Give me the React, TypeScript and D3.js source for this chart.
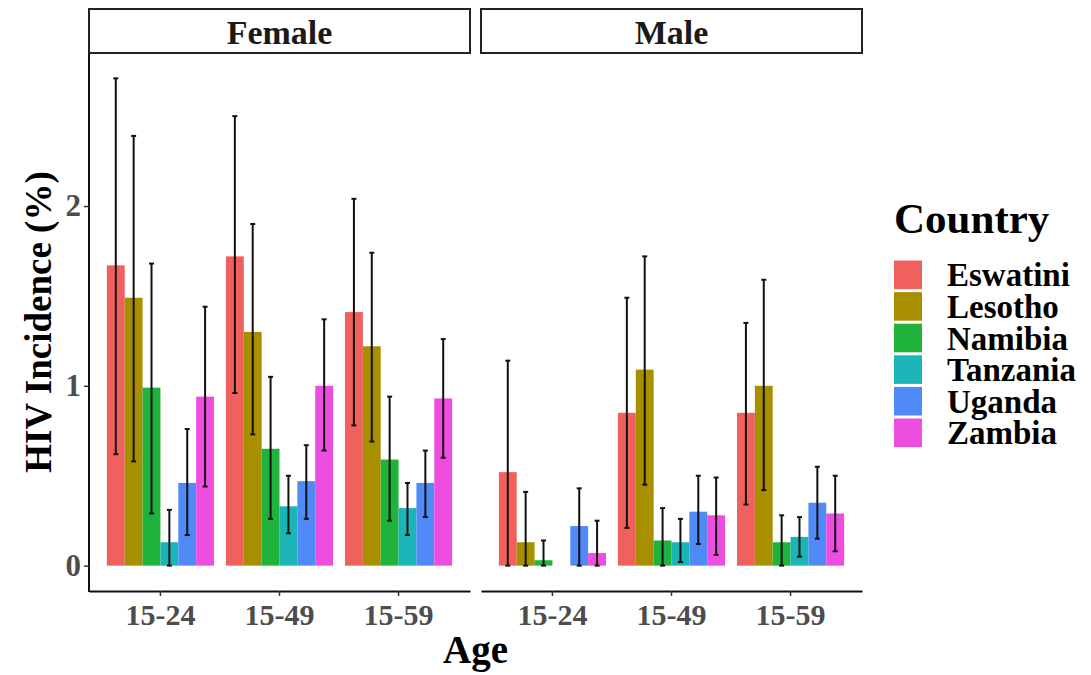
import React, { useEffect, useRef } from "react";
import * as d3 from "d3";

const countries = ["Eswatini", "Lesotho", "Namibia", "Tanzania", "Uganda", "Zambia"];
const sexes = ["Female", "Male"];
const ageGroups = ["15-24", "15-49", "15-59"];
const yTicks = [0, 1, 2];

// rows = age group, columns = country
const femaleIncidence = [
  [1.67, 1.49, 0.99, 0.13, 0.46, 0.94],
  [1.72, 1.3, 0.65, 0.33, 0.47, 1.0],
  [1.41, 1.22, 0.59, 0.32, 0.46, 0.93],
];
const femaleLower = [
  [0.62, 0.58, 0.29, 0.0, 0.17, 0.44],
  [0.96, 0.73, 0.26, 0.18, 0.26, 0.64],
  [0.78, 0.69, 0.25, 0.17, 0.27, 0.6],
];
const femaleUpper = [
  [2.71, 2.39, 1.68, 0.31, 0.76, 1.44],
  [2.5, 1.9, 1.05, 0.5, 0.67, 1.37],
  [2.04, 1.74, 0.94, 0.46, 0.64, 1.26],
];
const maleIncidence = [
  [0.52, 0.13, 0.03, null, 0.22, 0.07],
  [0.85, 1.09, 0.14, 0.13, 0.3, 0.28],
  [0.85, 1.0, 0.13, 0.16, 0.35, 0.29],
];
const maleLower = [
  [0, 0, 0, null, 0, 0],
  [0.21, 0.45, 0, 0.02, 0.12, 0.06],
  [0.34, 0.42, 0, 0.05, 0.15, 0.08],
];
const maleUpper = [
  [1.14, 0.41, 0.14, null, 0.43, 0.25],
  [1.49, 1.72, 0.32, 0.26, 0.5, 0.49],
  [1.35, 1.59, 0.28, 0.27, 0.55, 0.5],
];

const palette = ["#F0605D", "#A88F00", "#1FB33B", "#1BB5B8", "#4F8AF7", "#EE4EE0"];

const FONT = "'Liberation Serif', 'Times New Roman', serif";

const App = () => {
  const svgRef = useRef(null);

  useEffect(() => {
    const width = 1091;
    const height = 675;

    const rows = [];
    sexes.forEach((sex, s) => {
      const inc = s === 0 ? femaleIncidence : maleIncidence;
      const lo = s === 0 ? femaleLower : maleLower;
      const hi = s === 0 ? femaleUpper : maleUpper;
      ageGroups.forEach((age, a) => {
        countries.forEach((country, c) => {
          if (inc[a][c] == null) return;
          rows.push({ sex, age, country, value: inc[a][c], lower: lo[a][c], upper: hi[a][c] });
        });
      });
    });

    const svg = d3.select(svgRef.current);
    svg.selectAll("*").remove();
    svg.attr("width", width).attr("height", height);

    const panelTop = 54;
    const panelBottom = 590;
    const stripTop = 9;
    const panels = [
      { sex: "Female", x0: 89, x1: 470 },
      { sex: "Male", x0: 481, x1: 862 },
    ];

    // ggplot-style 5% expansion
    const yMin = Math.min(0, d3.min(rows, d => d.lower));
    const yMax = d3.max(rows, d => d.upper);
    const pad = (yMax - yMin) * 0.05;
    const yScale = d3.scaleLinear()
      .domain([yMin - pad, yMax + pad])
      .range([panelBottom, panelTop]);

    const colorScale = d3.scaleOrdinal().domain(countries).range(palette);

    panels.forEach((p, i) => {
      const g = svg.append("g");

      const xScale = d3.scaleBand()
        .domain(ageGroups)
        .range([p.x0, p.x1])
        .paddingInner(0)
        .paddingOuter(0.1);
      const step = xScale.step();
      const dodge = d3.scaleBand()
        .domain(countries)
        .range([-0.45 * step, 0.45 * step]);

      const data = rows.filter(d => d.sex === p.sex);
      const cx = d => xScale(d.age) + step / 2 + dodge(d.country) + dodge.bandwidth() / 2;

      // strip
      g.append("rect")
        .attr("x", p.x0)
        .attr("y", stripTop)
        .attr("width", p.x1 - p.x0)
        .attr("height", panelTop - stripTop - 1)
        .attr("fill", "white")
        .attr("stroke", "#222")
        .attr("stroke-width", 2);
      g.append("text")
        .attr("x", (p.x0 + p.x1) / 2)
        .attr("y", 44)
        .attr("text-anchor", "middle")
        .style("font-family", FONT)
        .style("font-weight", "bold")
        .style("font-size", "34px")
        .attr("fill", "#1A1A1A")
        .text(p.sex);

      // bars
      g.selectAll(".bar")
        .data(data)
        .enter()
        .append("rect")
        .attr("x", d => xScale(d.age) + step / 2 + dodge(d.country))
        .attr("y", d => yScale(d.value))
        .attr("width", dodge.bandwidth())
        .attr("height", d => yScale(0) - yScale(d.value))
        .attr("fill", d => colorScale(d.country));

      // error bars
      const eb = g.selectAll(".err")
        .data(data)
        .enter()
        .append("g")
        .attr("stroke", "#111")
        .attr("stroke-width", 2);
      eb.append("line")
        .attr("x1", cx).attr("x2", cx)
        .attr("y1", d => yScale(d.lower))
        .attr("y2", d => yScale(d.upper));
      eb.append("line")
        .attr("x1", d => cx(d) - 2.5).attr("x2", d => cx(d) + 2.5)
        .attr("y1", d => yScale(d.upper)).attr("y2", d => yScale(d.upper));
      eb.append("line")
        .attr("x1", d => cx(d) - 2.5).attr("x2", d => cx(d) + 2.5)
        .attr("y1", d => yScale(d.lower)).attr("y2", d => yScale(d.lower));

      // x axis
      const xAxis = g.append("g")
        .attr("transform", `translate(0,${panelBottom + 1})`)
        .call(d3.axisBottom(xScale).tickSize(5).tickSizeOuter(0).tickPadding(4));
      xAxis.select(".domain").attr("stroke", "#111").attr("stroke-width", 2);
      xAxis.selectAll(".tick line").attr("stroke", "#333").attr("stroke-width", 1.5);
      xAxis.selectAll(".tick text")
        .attr("dy", null)
        .attr("y", 34)
        .attr("fill", "#4D4D4D")
        .style("font-family", FONT)
        .style("font-weight", "bold")
        .style("font-size", "30px");

      // y axis on first panel only
      if (i === 0) {
        const yAxis = g.append("g")
          .attr("transform", `translate(${p.x0},0)`)
          .call(d3.axisLeft(yScale).tickValues(yTicks).tickFormat(d3.format("d")).tickSize(5).tickSizeOuter(0).tickPadding(3));
        yAxis.select(".domain")
          .attr("d", `M0,${panelTop}V${panelBottom + 2}`)
          .attr("stroke", "#111").attr("stroke-width", 2);
        yAxis.selectAll(".tick line").attr("stroke", "#333").attr("stroke-width", 1.5);
        yAxis.selectAll(".tick text")
          .attr("fill", "#4D4D4D")
          .style("font-family", FONT)
          .style("font-weight", "bold")
          .style("font-size", "31px");
      }
    });

    // axis titles
    svg.append("text")
      .attr("x", (panels[0].x0 + panels[1].x1) / 2)
      .attr("y", 663)
      .attr("text-anchor", "middle")
      .style("font-family", FONT)
      .style("font-weight", "bold")
      .style("font-size", "39px")
      .text("Age");

    svg.append("text")
      .attr("transform", "rotate(-90)")
      .attr("x", -(panelTop + panelBottom) / 2)
      .attr("y", 51)
      .attr("text-anchor", "middle")
      .style("font-family", FONT)
      .style("font-weight", "bold")
      .style("font-size", "37px")
      .text("HIV Incidence (%)");

    // legend
    const legend = svg.append("g").attr("transform", "translate(894,0)");
    legend.append("text")
      .attr("x", 0)
      .attr("y", 233)
      .style("font-family", FONT)
      .style("font-weight", "bold")
      .style("font-size", "43px")
      .text("Country");

    const keyStep = 31.6;
    const keys = legend.selectAll(".key")
      .data(countries)
      .enter()
      .append("g")
      .attr("transform", (d, i) => `translate(0,${259 + i * keyStep})`);
    keys.append("rect")
      .attr("x", 0)
      .attr("y", 1.5)
      .attr("width", 28)
      .attr("height", keyStep - 3)
      .attr("fill", d => colorScale(d));
    keys.append("text")
      .attr("x", 53)
      .attr("y", keyStep / 2 + 11.5)
      .style("font-family", FONT)
      .style("font-weight", "bold")
      .style("font-size", "33px")
      .text(d => d);
  }, []);

  return (
    <div style={{ position: "absolute", left: 0, top: 0, width: 1091, height: 675, background: "white" }}>
      <svg ref={svgRef}></svg>
    </div>
  );
};

export default App;
